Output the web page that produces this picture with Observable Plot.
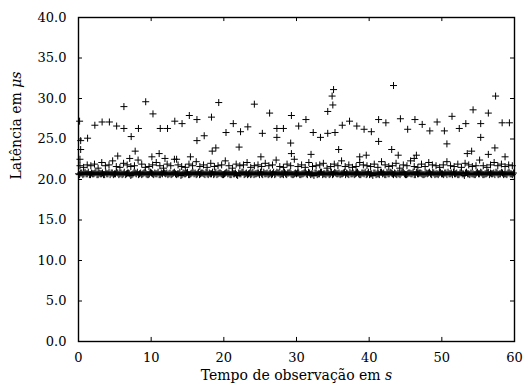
<!DOCTYPE html>
<html>
<head>
<meta charset="utf-8">
<script src="https://cdn.jsdelivr.net/npm/d3@7"></script>
<script src="https://cdn.jsdelivr.net/npm/@observablehq/plot@0.6"></script>
<style>
  body { margin: 0; background: #fff; }
  svg { display: block; }
</style>
</head>
<body>
<div id="chart"></div>
<script>
// Axis ticks and labels
const xTicks = [0, 10, 20, 30, 40, 50, 60];
const yTicks = [0, 5, 10, 15, 20, 25, 30, 35, 40];
const xLabel = "Tempo de observação em ";
const xUnit = "s";
const yLabel = "Latência em ";
const yUnit = "μs";

// Base latency samples (µs), two interleaved runs, one sample every bandPeriod seconds
const bandPeriod = 0.3;
const bandLatency = [
  20.7,20.8,20.6,20.9,20.7,20.6,20.8,20.7,20.9,20.6,20.7,20.8,20.6,20.7,20.9,20.8,20.6,20.7,20.8,20.7,
  20.6,20.9,20.7,20.8,20.5,20.7,20.8,20.9,20.7,20.6,20.8,20.7,20.6,20.9,20.7,20.8,20.7,20.6,20.8,20.9,
  20.7,20.6,20.8,20.7,20.9,20.6,20.7,20.5,20.8,20.7,20.9,20.6,20.8,20.7,20.6,20.9,20.7,20.8,20.6,20.7,
  20.8,20.7,20.6,20.9,20.7,20.8,20.6,20.7,20.9,20.8,20.6,20.7,20.8,20.5,20.7,20.9,20.6,20.8,20.7,20.6,
  20.9,20.7,20.8,20.6,20.7,20.9,20.7,20.6,20.8,20.7,20.6,20.9,20.8,20.7,20.6,20.7,20.8,20.9,20.6,20.7,
  20.7,20.8,20.6,20.7,20.9,20.6,20.8,20.7,20.5,20.8,20.7,20.9,20.6,20.7,20.8,20.6,20.9,20.7,20.8,20.7,
  20.6,20.7,20.9,20.8,20.6,20.7,20.8,20.7,20.9,20.6,20.8,20.7,20.6,20.9,20.7,20.5,20.8,20.7,20.6,20.9,
  20.8,20.6,20.7,20.9,20.7,20.8,20.6,20.7,20.8,20.9,20.6,20.7,20.8,20.7,20.6,20.9,20.7,20.8,20.6,20.7,
  20.7,20.9,20.6,20.8,20.7,20.6,20.9,20.7,20.8,20.6,20.7,20.8,20.9,20.7,20.6,20.8,20.7,20.5,20.9,20.7,
  20.8,20.7,20.6,20.9,20.7,20.8,20.6,20.7,20.9,20.8,20.7,20.6,20.8,20.7,20.9,20.6,20.7,20.8,20.7,20.6
];
const bandStart2 = 0.15;
const bandLatency2 = [
  20.6,20.8,20.7,20.7,20.9,20.6,20.7,20.8,20.6,20.8,20.7,20.6,20.9,20.7,20.6,20.8,20.7,20.9,20.6,20.8,
  20.7,20.6,20.8,20.7,20.6,20.9,20.7,20.6,20.8,20.7,20.9,20.6,20.7,20.8,20.6,20.7,20.9,20.6,20.7,20.8,
  20.8,20.7,20.6,20.8,20.7,20.7,20.9,20.6,20.7,20.8,20.6,20.7,20.9,20.8,20.7,20.6,20.8,20.7,20.9,20.6,
  20.7,20.9,20.7,20.6,20.8,20.7,20.6,20.8,20.7,20.6,20.9,20.7,20.6,20.8,20.7,20.9,20.7,20.6,20.8,20.7,
  20.6,20.7,20.8,20.9,20.6,20.7,20.8,20.7,20.6,20.9,20.7,20.8,20.6,20.7,20.9,20.6,20.8,20.7,20.6,20.8,
  20.8,20.6,20.7,20.8,20.7,20.9,20.6,20.7,20.8,20.6,20.7,20.9,20.7,20.6,20.8,20.7,20.6,20.9,20.7,20.8,
  20.7,20.8,20.6,20.7,20.9,20.7,20.6,20.8,20.7,20.6,20.8,20.9,20.7,20.6,20.7,20.8,20.6,20.7,20.9,20.7,
  20.6,20.9,20.7,20.8,20.6,20.7,20.8,20.6,20.9,20.7,20.6,20.8,20.7,20.9,20.6,20.7,20.8,20.7,20.6,20.8,
  20.8,20.7,20.9,20.6,20.7,20.8,20.7,20.6,20.8,20.9,20.7,20.6,20.7,20.8,20.6,20.9,20.7,20.8,20.7,20.6,
  20.7,20.6,20.8,20.7,20.9,20.6,20.7,20.8,20.6,20.7,20.8,20.9,20.6,20.7,20.8,20.7,20.6,20.9,20.7,20.8
];

// Secondary latency level (µs), one every midPeriod seconds starting at midStart
const midStart = 0.2;
const midPeriod = 0.5;
const midLatency = [
  21.7,21.5,21.8,21.7,21.9,21.4,22.1,21.7,21.8,22.3,
  21.6,21.5,22.0,21.8,21.6,21.7,22.4,21.9,21.5,21.6,
  21.8,22.1,21.7,21.4,21.9,21.7,22.5,21.8,21.6,21.5,
  21.9,21.7,22.2,21.6,21.8,21.5,22.0,21.6,21.7,21.8,
  22.3,21.7,21.4,21.9,21.7,21.8,22.1,21.5,21.7,21.8,
  21.6,22.0,21.7,21.8,22.4,21.6,21.5,21.9,21.7,22.5,
  21.6,21.8,21.5,22.1,21.6,21.7,21.8,22.0,21.4,21.6,
  21.9,21.7,22.3,21.6,21.8,21.5,21.6,22.1,21.8,21.7,
  21.6,21.9,21.5,22.2,21.8,21.6,21.7,22.0,21.4,21.8,
  21.7,22.3,21.6,21.5,21.9,21.6,22.1,21.8,21.7,21.5,
  21.8,22.2,21.7,21.6,21.9,21.5,22.0,21.8,21.6,21.7,
  22.4,21.7,21.5,21.8,22.1,21.7,21.9,21.6,21.8,21.7
];

// Isolated latency spikes: time (s) and latency (µs)
const spikeTime = [
  0.15, 1.25, 2.25, 3.25, 4.25, 5.25, 6.25, 6.25, 7.25, 8.25,
  9.25, 10.25, 11.25, 12.25, 13.25, 14.25, 15.25, 16.3, 16.3, 17.3,
  18.3, 19.3, 20.3, 21.3, 22.3, 23.3, 24.2, 25.3, 26.3, 27.3,
  27.3, 28.2, 29.3, 30.3, 31.3, 32.3, 33.3, 34.3, 34.3, 35.0,
  34.9, 35.1, 35.3, 36.3, 37.3, 38.3, 39.3, 40.3, 41.3, 42.3,
  43.35, 44.3, 45.3, 46.3, 47.3, 48.35, 49.35, 50.35, 51.4, 52.4,
  53.3, 54.3, 55.35, 55.35, 56.4, 57.4, 58.3, 59.3,
  0.3, 0.3, 0.2, 5.4, 7.05, 7.8, 10.1, 11.1, 11.9, 13.5,
  15.4, 18.4, 18.9, 22.1, 25.1, 29.2, 29.3, 32.0, 35.8, 38.7,
  39.6, 41.3, 43.1, 44.0, 46.2, 46.5, 50.7, 53.5, 54.1, 56.4,
  57.3, 58.7
];
const spikeLatency = [
  27.2, 25.1, 26.7, 27.1, 27.1, 26.6, 29.0, 26.3, 25.3, 26.3,
  29.6, 28.1, 26.3, 26.3, 27.2, 26.9, 27.9, 27.4, 24.8, 25.4,
  27.7, 29.5, 25.8, 26.9, 25.9, 26.5, 29.3, 25.7, 28.2, 26.3,
  25.2, 26.3, 27.9, 26.6, 27.4, 25.8, 25.2, 25.7, 28.4, 29.2,
  30.3, 31.1, 25.8, 26.7, 27.2, 26.6, 26.2, 25.9, 27.4, 27.0,
  31.6, 27.5, 26.2, 27.4, 26.8, 26.0, 27.1, 26.0, 27.8, 26.3,
  26.9, 28.6, 26.9, 25.2, 28.2, 30.3, 27.0, 27.0,
  24.8, 23.7, 22.5, 22.9, 22.6, 23.5, 22.8, 23.2, 22.6, 22.5,
  22.8, 23.5, 23.9, 24.0, 22.8, 24.5, 23.2, 23.1, 23.7, 22.8,
  23.0, 24.7, 23.7, 23.0, 22.6, 23.0, 24.4, 23.2, 23.5, 23.1,
  23.9, 22.8
];

// Assemble the measurement table
const samples = [
  ...bandLatency.map((lat, i) => ({t: i * bandPeriod, lat})),
  ...bandLatency2.map((lat, i) => ({t: bandStart2 + i * bandPeriod, lat})),
  ...midLatency.map((lat, i) => ({t: midStart + i * midPeriod, lat})),
  ...spikeTime.map((t, i) => ({t, lat: spikeLatency[i]}))
];

// Open "+" marker, like a classic plotting terminal
const plus = {
  draw(context, size) {
    const r = Math.sqrt(size / Math.PI);
    context.moveTo(-r, 0); context.lineTo(r, 0);
    context.moveTo(0, -r); context.lineTo(0, r);
  }
};

const font = "DejaVu Serif";

const chart = Plot.plot({
  width: 525,
  height: 390,
  marginLeft: 78,
  marginRight: 11,
  marginTop: 17,
  marginBottom: 49,
  style: {fontFamily: font, fontSize: "13px", background: "#fff", color: "#000"},
  x: {domain: [0, 60]},
  y: {domain: [0, 40]},
  marks: [
    Plot.dot(samples, {x: "t", y: "lat", symbol: plus, r: 3.5, fill: "none", stroke: "#000", strokeWidth: 1}),
    // inward ticks on all four sides
    Plot.ruleX(xTicks, {x: d => d, y1: 0, y2: 0.5, stroke: "#000", strokeWidth: 1}),
    Plot.ruleX(xTicks, {x: d => d, y1: 40, y2: 39.5, stroke: "#000", strokeWidth: 1}),
    Plot.ruleY(yTicks, {y: d => d, x1: 0, x2: 0.55, stroke: "#000", strokeWidth: 1}),
    Plot.ruleY(yTicks, {y: d => d, x1: 60, x2: 59.45, stroke: "#000", strokeWidth: 1}),
    Plot.frame({stroke: "#000", strokeWidth: 1.4}),
    Plot.axisX(xTicks, {tickSize: 0, tickPadding: 11, label: null, tickFormat: d => String(d), fontSize: 13}),
    Plot.axisY(yTicks, {tickSize: 0, tickPadding: 12, label: null, tickFormat: d3.format(".1f"), fontSize: 13}),
    Plot.text([xLabel], {frameAnchor: "bottom", dy: 38, fontSize: 14}),
    Plot.text([yLabel], {frameAnchor: "left", dx: -62, rotate: -90, fontSize: 14})
  ]
});

// italic unit symbols after the axis titles
d3.select(chart).selectAll("text").each(function () {
  const s = this.textContent;
  if (s === xLabel || s === xLabel.trim()) {
    this.textContent = xLabel;
    d3.select(this).append("tspan").attr("font-style", "italic").text(xUnit);
  } else if (s === yLabel || s === yLabel.trim()) {
    this.textContent = yLabel;
    d3.select(this).append("tspan").attr("font-style", "italic").text(yUnit);
  }
});

document.getElementById("chart").append(chart);
</script>
</body>
</html>
